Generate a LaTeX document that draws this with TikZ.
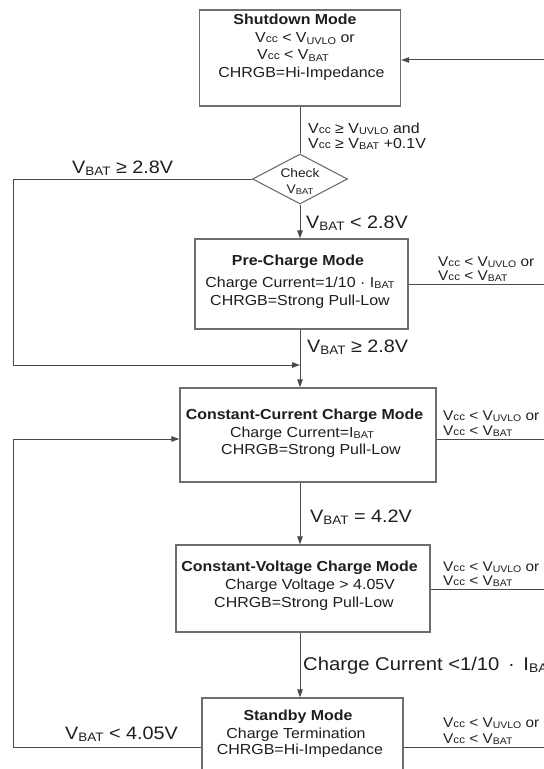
\documentclass[tikz,border=0pt]{standalone}
\usepackage{fontspec}
\setmainfont{Liberation Sans}[FakeStretch=1.1]
\usepackage{graphicx}
\usetikzlibrary{arrows.meta,shapes.geometric}
\definecolor{ln}{HTML}{4A4A4A}
\definecolor{bx}{HTML}{6E6E6E}
\definecolor{tx}{HTML}{1E1E1E}
\newcommand{\sbs}[1]{\raisebox{-0.12em}{\scalebox{0.68}{#1}}}
\newcommand{\Vcc}{V\scalebox{0.75}{cc}}
\newcommand{\Vuvlo}{V\sbs{UVLO}}
\newcommand{\Vbat}{V\sbs{BAT}}
\newcommand{\Ibat}{I\sbs{BAT}}
\newcommand{\fmain}{\fontsize{14.5bp}{17bp}\selectfont}
\newcommand{\fbig}{\fontsize{18bp}{21bp}\selectfont}
\newcommand{\fbigger}{\fontsize{18.4bp}{21bp}\selectfont}
\newcommand{\fsmall}{\fontsize{14bp}{16bp}\selectfont}
\newcommand{\fdia}{\fontsize{12.5bp}{15bp}\selectfont}
\tikzset{
  box/.style={draw=bx, line width=1.3bp, rectangle, inner sep=0pt, fill=white},
  diabox/.style={draw=bx, line width=1.1bp, diamond, inner sep=0pt, minimum width=95bp, minimum height=50bp},
  conn/.style={draw=ln, line width=1bp},
  arr/.style={conn, -{Triangle[length=8bp,width=5.5bp]}},
  t/.style={inner sep=0pt, text=tx, font=\fmain, anchor=base},
  tb/.style={t, font=\fmain\bfseries},
  td/.style={t, font=\fdia},
  lbm/.style={inner sep=0pt, text=tx, anchor=base west, font=\fmain},
  lbb/.style={inner sep=0pt, text=tx, anchor=base west, font=\fbig},
  lbs/.style={inner sep=0pt, text=tx, anchor=base west, font=\fsmall},
}
\begin{document}
\begin{tikzpicture}[x=1bp,y=1bp]
\useasboundingbox (0,0) rectangle (544,-769);
\clip (0,0) rectangle (544,-769);
\fill[white] (0,0) rectangle (544,-769);

% boxes
\node[box, minimum width=201bp, minimum height=96bp] (shut) at (300,-58) {};
\node[diabox] (dia) at (300,-179) {};
\node[box, minimum width=213bp, minimum height=90bp] (pre) at (301.5,-284) {};
\node[box, minimum width=256bp, minimum height=94bp] (cc) at (308,-435) {};
\node[box, minimum width=254bp, minimum height=87bp] (cv) at (303,-588.5) {};
\node[box, minimum width=201bp, minimum height=98bp] (sb) at (302.5,-747) {};

% coordinates
\coordinate (tk) at (300,0);
\coordinate (L1) at (13,-365);
\coordinate (j1) at (300,-365);
\coordinate (L3) at (13,-439);
\coordinate (R0) at (544,-60);
\coordinate (R1) at (544,-284);
\coordinate (R2) at (544,-439);
\coordinate (R3) at (544,-589);
\coordinate (R4) at (544,-747);

% connectors
\draw[conn] (shut.south -| tk) -- (dia.north);
\draw[arr] (dia.south) -- (dia.south |- pre.north);
\draw[arr] (dia.west) -| (L1) -- (j1);
\draw[arr] (pre.south -| tk) -- (cc.north -| tk);
\draw[arr] (cc.south -| tk) -- (cv.north -| tk);
\draw[arr] (cv.south -| tk) -- (sb.north -| tk);
\draw[arr] (sb.west) -| (L3) -- (L3 -| cc.west);
\draw[arr] (R0) -- (R0 -| shut.east);
\draw[conn] (pre.east |- R1) -- (R1);
\draw[conn] (cc.east |- R2) -- (R2);
\draw[conn] (cv.east |- R3) -- (R3);
\draw[conn] (sb.east |- R4) -- (R4);

% box texts
\node[tb] (s1) at (295,-25) {Shutdown Mode};
\node[t] (s2) at (305,-43) {\Vcc{} < \Vuvlo{} or};
\node[t] (s3) at (293,-60) {\Vcc{} < \Vbat};
\node[t] (s4) at (301.5,-77) {CHRGB=Hi-Impedance};

\node[td] (d1) at (300,-177) {Check};
\node[td] (d2) at (300,-193) {\Vbat};

\node[tb] (p1) at (298,-265) {Pre-Charge Mode};
\node[t] (p2) at (300,-287) {Charge Current=1/10 · \Ibat};
\node[t] (p3) at (300,-305) {CHRGB=Strong Pull-Low};

\node[tb] (c1) at (304.5,-419) {Constant-Current Charge Mode};
\node[t] (c2) at (302,-437) {Charge Current=\Ibat};
\node[t] (c3) at (311,-454) {CHRGB=Strong Pull-Low};

\node[tb] (v1) at (299.6,-571) {Constant-Voltage Charge Mode};
\node[t] (v2) at (310,-589) {Charge Voltage > 4.05V};
\node[t] (v3) at (304,-607) {CHRGB=Strong Pull-Low};

\node[tb] (b1) at (298,-720) {Standby Mode};
\node[t] (b2) at (296,-738) {Charge Termination};
\node[t] (b3) at (300,-754) {CHRGB=Hi-Impedance};

% edge labels
\node[lbm] (e1) at (308,-133) {\Vcc{} ≥ \Vuvlo{} and};
\node[lbm] (e2) at (308,-148) {\Vcc{} ≥ \Vbat{} +0.1V};
\node[lbb] (e3) at (72,-173) {\Vbat{} ≥ 2.8V};
\node[lbb] (e4) at (306,-228) {\Vbat{} < 2.8V};
\node[lbb] (e5) at (307,-352) {\Vbat{} ≥ 2.8V};
\node[lbb] (e6) at (310,-522) {\Vbat{} = 4.2V};
\node[lbb, font=\fbigger] (e7) at (303,-670) {Charge Current <1/10\hspace{3bp} · \hspace{3bp}\Ibat};
\node[lbb] (e8) at (65,-739) {\Vbat{} < 4.05V};

\node[lbs] (r1a) at (438,-266) {\Vcc{} < \Vuvlo{} or};
\node[lbs] (r1b) at (438,-280) {\Vcc{} < \Vbat};
\node[lbs] (r2a) at (443,-420) {\Vcc{} < \Vuvlo{} or};
\node[lbs] (r2b) at (443,-435) {\Vcc{} < \Vbat};
\node[lbs] (r3a) at (443,-571) {\Vcc{} < \Vuvlo{} or};
\node[lbs] (r3b) at (443,-585) {\Vcc{} < \Vbat};
\node[lbs] (r4a) at (443,-727) {\Vcc{} < \Vuvlo{} or};
\node[lbs] (r4b) at (443,-743) {\Vcc{} < \Vbat};
\end{tikzpicture}
\end{document}
